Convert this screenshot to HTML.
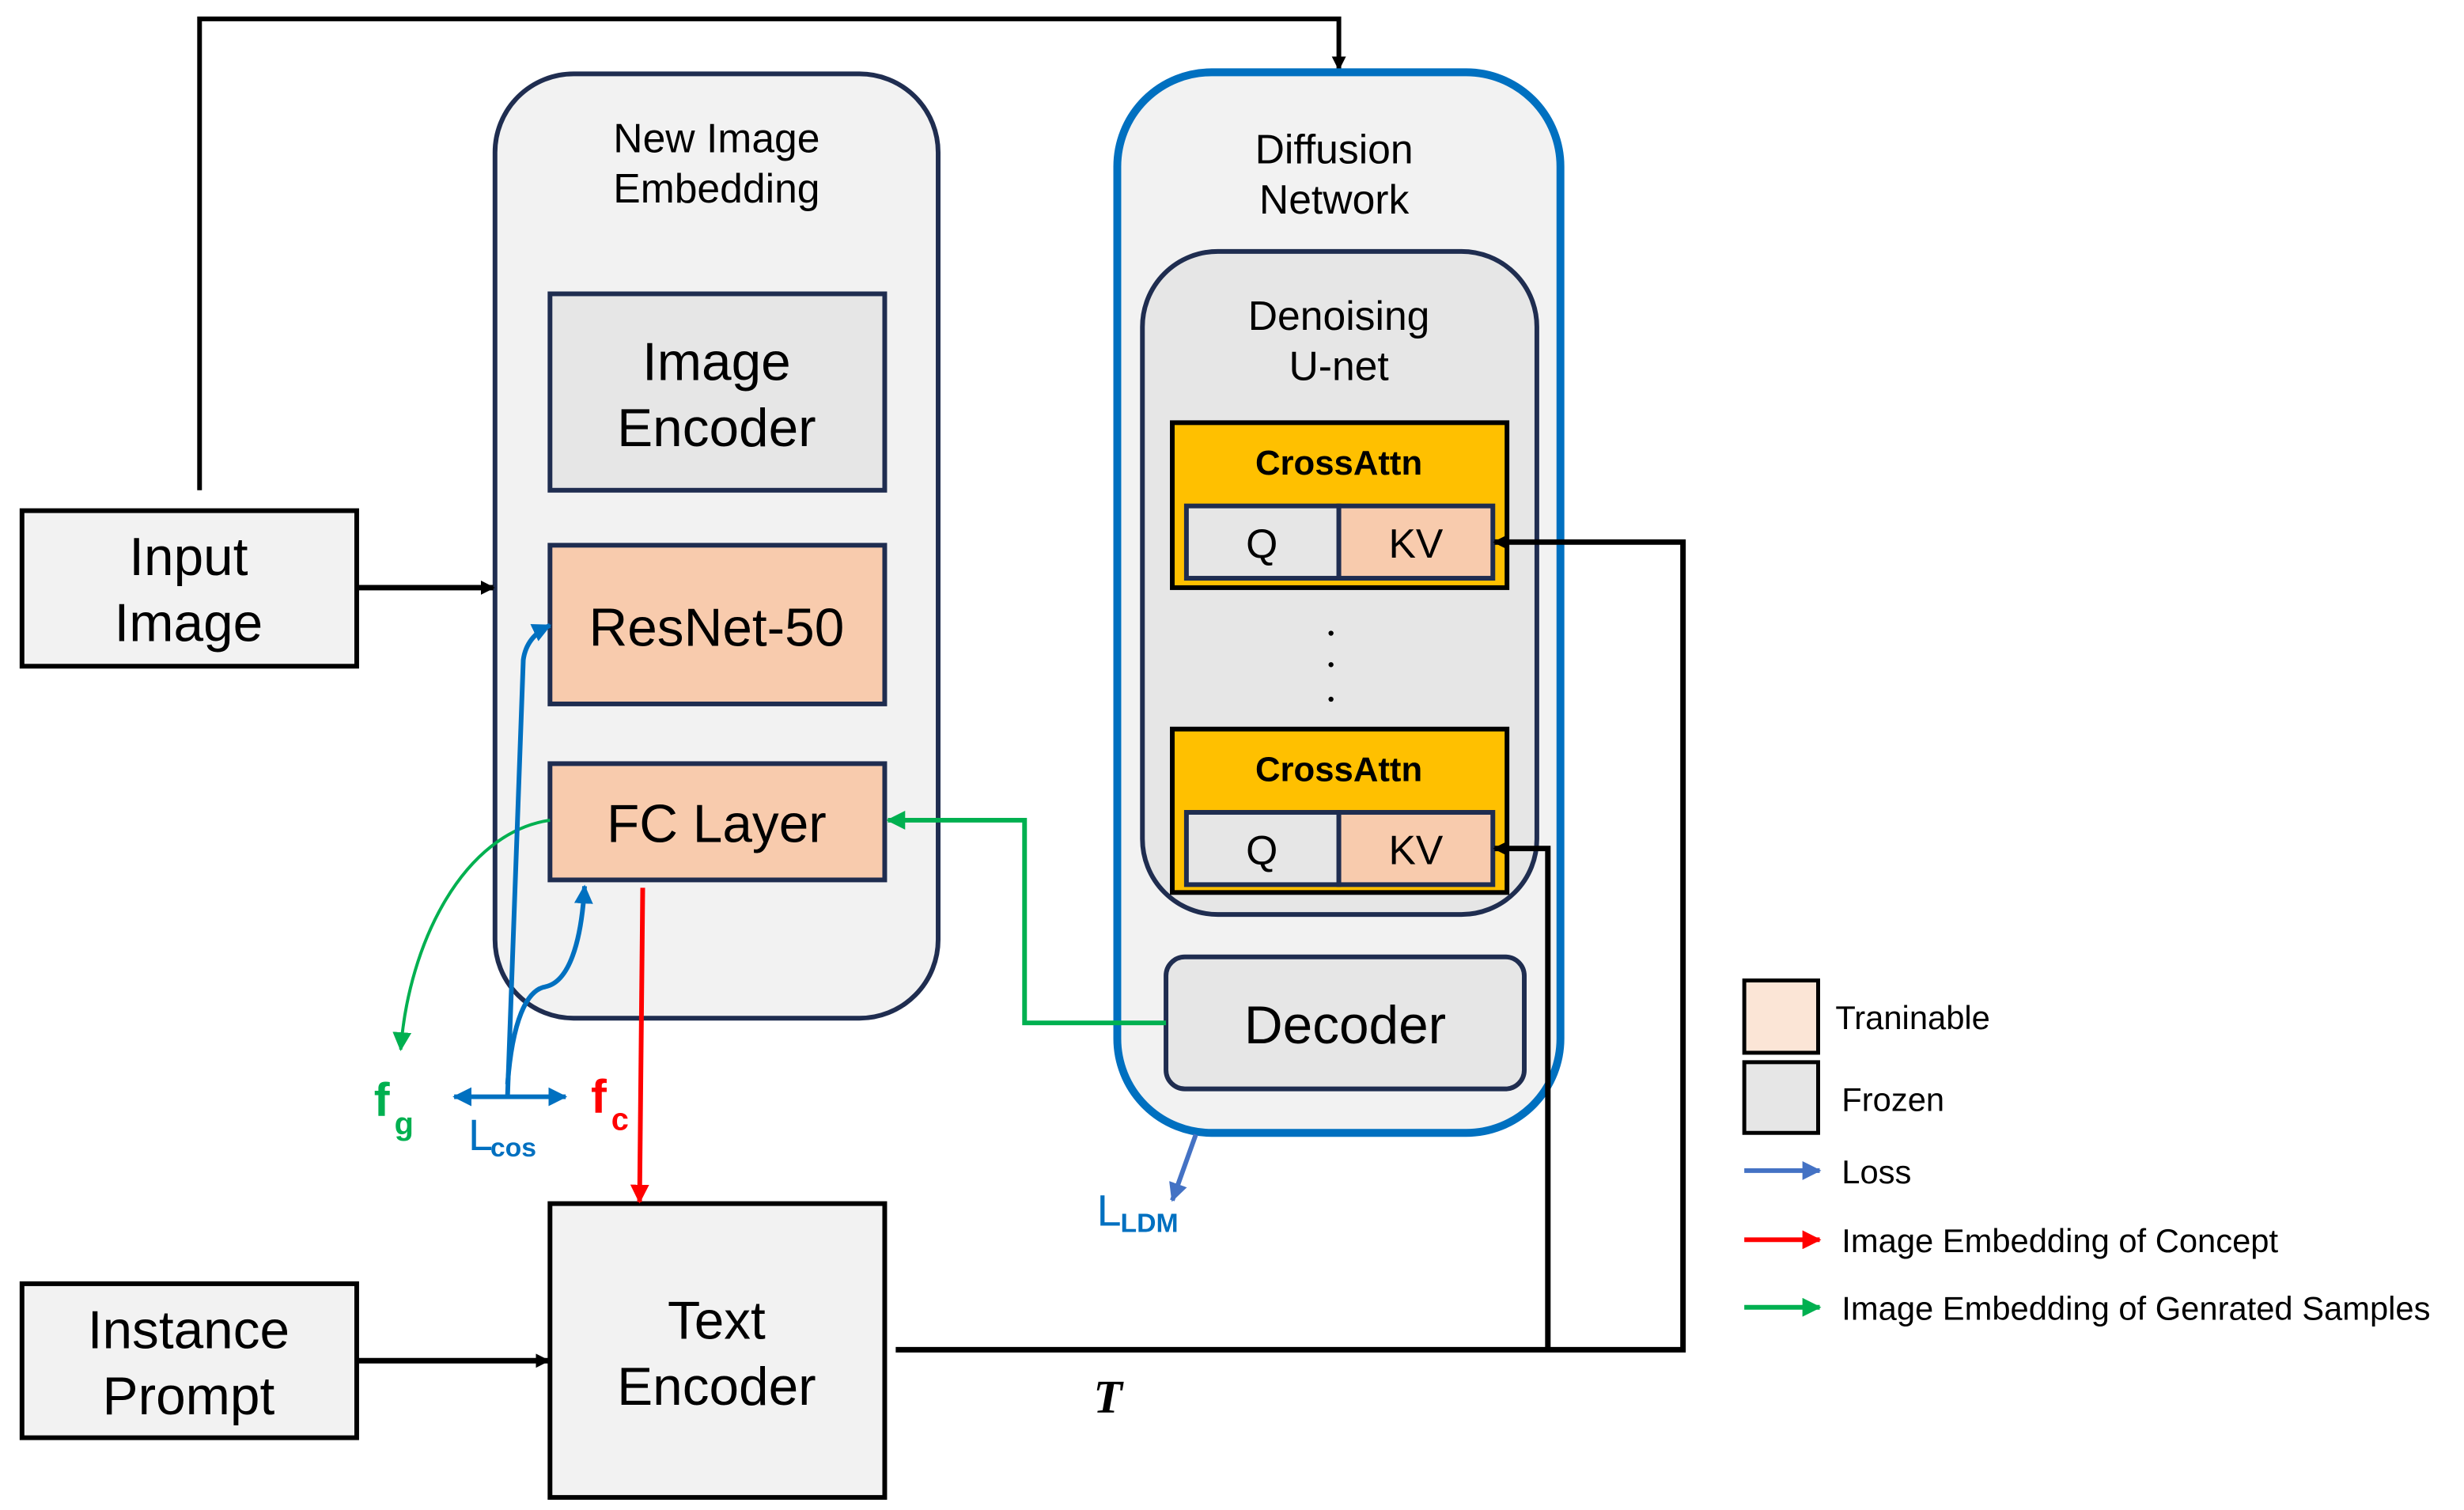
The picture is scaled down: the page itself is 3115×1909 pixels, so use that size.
<!DOCTYPE html>
<html><head><style>html,body{margin:0;padding:0;background:#fff}svg{display:block}text{font-family:"Liberation Sans",sans-serif}</style></head>
<body>
<svg width="3115" height="1909" viewBox="0 0 1568 961" preserveAspectRatio="none" xmlns="http://www.w3.org/2000/svg">
<defs>
<marker id="ab" markerWidth="9" markerHeight="9" refX="8" refY="4.5" orient="auto" markerUnits="userSpaceOnUse"><path d="M0,0 L9,4.5 L0,9z" fill="#000"/></marker>
<marker id="ag" markerWidth="12" markerHeight="12" refX="11" refY="6" orient="auto" markerUnits="userSpaceOnUse"><path d="M0,0 L12,6 L0,12z" fill="#00b050"/></marker>
<marker id="ar" markerWidth="12" markerHeight="12" refX="11" refY="6" orient="auto" markerUnits="userSpaceOnUse"><path d="M0,0 L12,6 L0,12z" fill="#ff0000"/></marker>
<marker id="au" markerWidth="12" markerHeight="12" refX="11" refY="6" orient="auto" markerUnits="userSpaceOnUse"><path d="M0,0 L12,6 L0,12z" fill="#0070c0"/></marker>
<marker id="al" markerWidth="12" markerHeight="12" refX="11" refY="6" orient="auto" markerUnits="userSpaceOnUse"><path d="M0,0 L12,6 L0,12z" fill="#4472c4"/></marker>
<marker id="aus" markerWidth="12" markerHeight="12" refX="1" refY="6" orient="auto" markerUnits="userSpaceOnUse"><path d="M12,0 L0,6 L12,12z" fill="#0070c0"/></marker>
</defs>
<polyline points="127,312 127,12 852,12 852,44" fill="none" stroke="#000" stroke-width="3" marker-end="url(#ab)"/>
<rect x="315" y="47" width="282" height="601" rx="50" fill="#f2f2f2" stroke="#1f2d50" stroke-width="3"/>
<text x="456" y="97" font-size="26" text-anchor="middle">New Image</text>
<text x="456" y="129" font-size="26" text-anchor="middle">Embedding</text>
<rect x="350" y="187" width="213" height="125" fill="#e6e6e6" stroke="#1f2d50" stroke-width="3"/>
<text x="456" y="242" font-size="34" text-anchor="middle">Image</text>
<text x="456" y="284" font-size="34" text-anchor="middle">Encoder</text>
<rect x="350" y="347" width="213" height="101" fill="#f8cbad" stroke="#1f2d50" stroke-width="3"/>
<text x="456" y="411" font-size="34" text-anchor="middle">ResNet-50</text>
<rect x="350" y="486" width="213" height="74" fill="#f8cbad" stroke="#1f2d50" stroke-width="3"/>
<text x="456" y="536" font-size="34" text-anchor="middle">FC Layer</text>

<rect x="711" y="46" width="282" height="675" rx="60" fill="#f2f2f2" stroke="#0070c0" stroke-width="5"/>
<text x="849" y="104" font-size="26" text-anchor="middle">Diffusion</text>
<text x="849" y="136" font-size="26" text-anchor="middle">Network</text>
<rect x="727" y="160" width="251" height="422" rx="48" fill="#e6e6e6" stroke="#1f2d50" stroke-width="3"/>
<text x="852" y="210" font-size="26" text-anchor="middle">Denoising</text>
<text x="852" y="242" font-size="26" text-anchor="middle">U-net</text>
<rect x="746" y="269" width="213" height="105" fill="#ffc000" stroke="#000" stroke-width="3"/>
<text x="852" y="302" font-size="22" font-weight="bold" text-anchor="middle">CrossAttn</text>
<rect x="755" y="322" width="97" height="46" fill="#e6e6e6" stroke="#1f2d50" stroke-width="3"/>
<rect x="852" y="322" width="98" height="46" fill="#f8cbad" stroke="#1f2d50" stroke-width="3"/>
<text x="803" y="355" font-size="26" text-anchor="middle">Q</text>
<text x="901" y="355" font-size="26" text-anchor="middle">KV</text>
<circle cx="847" cy="403" r="1.6"/><circle cx="847" cy="423" r="1.6"/><circle cx="847" cy="445" r="1.6"/>
<rect x="746" y="464" width="213" height="104" fill="#ffc000" stroke="#000" stroke-width="3"/>
<text x="852" y="497" font-size="22" font-weight="bold" text-anchor="middle">CrossAttn</text>
<rect x="755" y="517" width="97" height="46" fill="#e6e6e6" stroke="#1f2d50" stroke-width="3"/>
<rect x="852" y="517" width="98" height="46" fill="#f8cbad" stroke="#1f2d50" stroke-width="3"/>
<text x="803" y="550" font-size="26" text-anchor="middle">Q</text>
<text x="901" y="550" font-size="26" text-anchor="middle">KV</text>
<rect x="742" y="609" width="228" height="84" rx="12" fill="#e6e6e6" stroke="#1f2d50" stroke-width="3"/>
<text x="856" y="664" font-size="34" text-anchor="middle">Decoder</text>

<rect x="14" y="325" width="213" height="99" fill="#f2f2f2" stroke="#000" stroke-width="3"/>
<text x="120" y="366" font-size="34" text-anchor="middle">Input</text>
<text x="120" y="408" font-size="34" text-anchor="middle">Image</text>
<line x1="227" y1="374" x2="314" y2="374" stroke="#000" stroke-width="3.5" marker-end="url(#ab)"/>
<rect x="14" y="817" width="213" height="98" fill="#f2f2f2" stroke="#000" stroke-width="3"/>
<text x="120" y="858" font-size="34" text-anchor="middle">Instance</text>
<text x="120" y="900" font-size="34" text-anchor="middle">Prompt</text>
<line x1="227" y1="866" x2="349" y2="866" stroke="#000" stroke-width="3.5" marker-end="url(#ab)"/>
<rect x="350" y="766" width="213" height="187" fill="#f2f2f2" stroke="#000" stroke-width="3"/>
<text x="456" y="852" font-size="34" text-anchor="middle">Text</text>
<text x="456" y="894" font-size="34" text-anchor="middle">Encoder</text>

<polyline points="570,859 1071,859 1071,345 951,345" fill="none" stroke="#000" stroke-width="3.5" marker-end="url(#ab)"/>
<polyline points="985,859 985,540 951,540" fill="none" stroke="#000" stroke-width="3.5" marker-end="url(#ab)"/>
<text x="705" y="899" font-size="30" font-weight="bold" font-style="italic" text-anchor="middle" style="font-family:'Liberation Serif',serif">T</text>

<polyline points="742,651 652,651 652,522 565,522" fill="none" stroke="#00b050" stroke-width="3" marker-end="url(#ag)"/>
<path d="M350,522 C295,530 260,600 255,668" fill="none" stroke="#00b050" stroke-width="2" marker-end="url(#ag)"/>
<line x1="409" y1="565" x2="407" y2="765" stroke="#ff0000" stroke-width="3" marker-end="url(#ar)"/>
<line x1="289" y1="698" x2="360" y2="698" stroke="#0070c0" stroke-width="3" marker-start="url(#aus)" marker-end="url(#au)"/>
<path d="M323,697 L333,420 Q335,405 350,398" fill="none" stroke="#0070c0" stroke-width="3" marker-end="url(#au)"/>
<path d="M323,690 C326,650 335,630 347,628 C362,625 370,600 372,564" fill="none" stroke="#0070c0" stroke-width="3" marker-end="url(#au)"/>
<line x1="761" y1="722" x2="746" y2="764" stroke="#4472c4" stroke-width="3" marker-end="url(#al)"/>

<text x="238" y="710" font-size="30" font-weight="bold" fill="#00b050">f</text>
<text x="251" y="722" font-size="20" font-weight="bold" fill="#00b050">g</text>
<text x="376" y="708" font-size="30" font-weight="bold" fill="#ff0000">f</text>
<text x="389" y="719" font-size="20" font-weight="bold" fill="#ff0000">c</text>
<text x="298" y="732" font-size="28" fill="#0070c0">L</text>
<text x="312" y="736" font-size="17" font-weight="bold" fill="#0070c0">cos</text>
<text x="698" y="780" font-size="28" fill="#0070c0">L</text>
<text x="713" y="784" font-size="17" font-weight="bold" fill="#0070c0">LDM</text>

<rect x="1110" y="624" width="47" height="46" fill="#fbe5d6" stroke="#000" stroke-width="2.5"/>
<rect x="1110" y="676" width="47" height="45" fill="#e6e6e6" stroke="#000" stroke-width="2.5"/>
<text x="1168" y="655" font-size="21">Traninable</text>
<text x="1172" y="707" font-size="21">Frozen</text>
<line x1="1110" y1="745" x2="1158" y2="745" stroke="#4472c4" stroke-width="3" marker-end="url(#al)"/>
<line x1="1110" y1="789" x2="1158" y2="789" stroke="#ff0000" stroke-width="3" marker-end="url(#ar)"/>
<line x1="1110" y1="832" x2="1158" y2="832" stroke="#00b050" stroke-width="3" marker-end="url(#ag)"/>
<text x="1172" y="753" font-size="21">Loss</text>
<text x="1172" y="797" font-size="21">Image Embedding of Concept</text>
<text x="1172" y="840" font-size="21">Image Embedding of Genrated Samples</text>
</svg>
</body></html>
